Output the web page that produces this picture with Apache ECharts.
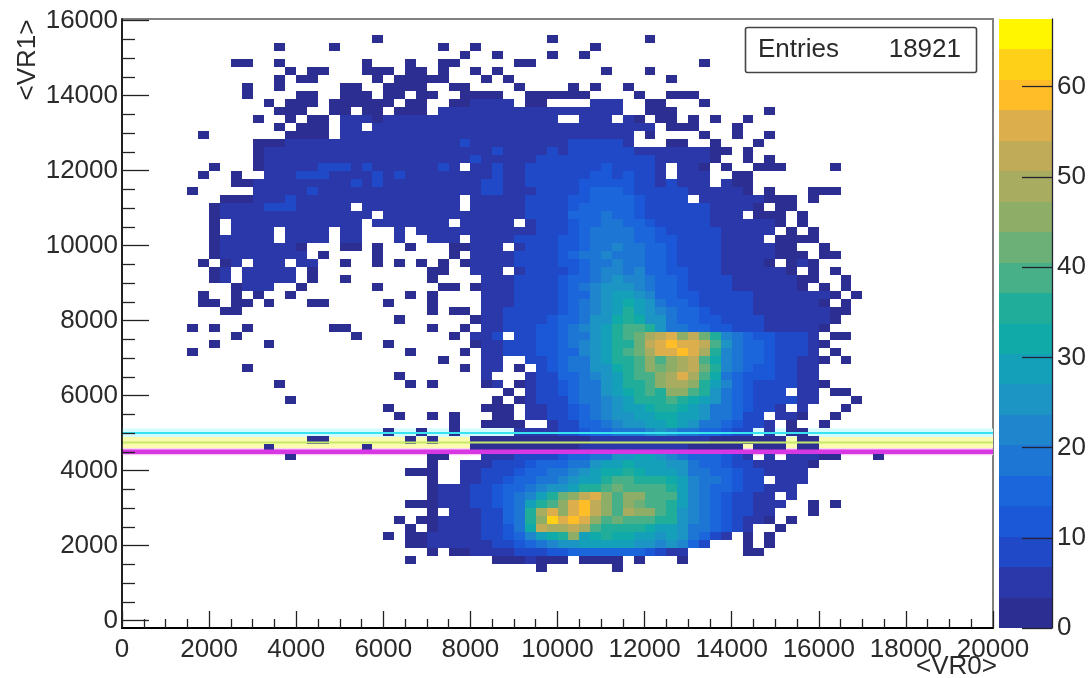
<!DOCTYPE html>
<html><head><meta charset="utf-8">
<style>html,body{margin:0;padding:0;background:#fff}#c{width:1091px;height:678px;filter:blur(0.7px)}</style>
<script src="https://cdn.jsdelivr.net/npm/echarts@6/dist/echarts.min.js"></script>
</head><body><div id="c"></div>
<script>
// Each row is one y bin from the top; each char one x bin: '.' empty, base-36 level L => count 2L.
const E = "..........";
const countRows = [
"","",
[E,E,"...1......",".........1","........1."].join(""),
[E,"....1....1",".........1","..1.......","...1......"].join(""),
[E,E,E,".1..1....1","..1......."].join(""),
[E,"11..1.....","..1...1..1","1.....11..",E,"...1......"].join(""),
[E,".....1.11.","..111.11.1","..1.1.....","....1...1."].join(""),
[E,"....1.11..","...1.11111","...1.1....",E,"1........."].join(""),
[E,".1..1.....","11..1111..","11....1...",".1.1..1..."].join(""),
[E,".1....11..","111.11.11.",".1111..111","111....1..","111......."].join(""),
[E,"...1.111.1","11111.11..","112222.11.","...222..11","...1......"].join(""),
[E,"....111..1","1.11.111.2","2223332332","232322..11","1........1"].join(""),
[E,"..1..1.11.","2221222222","2332333333","..332.21.1","1.1.1..1.."].join(""),
[E,"....1.111.","22.2222222","3323333333","333333332.","111...1..."].join(""),
[".......1..",".....1111.","2222222222","3232333333","3333333.1.","...1..1..1"].join(""),
[E,"..11122222","2222233323","3433323333","3444443...","11..1...1."].join(""),
[E,"..12222222","2323233333","3333433334","3444444333","322211.1.."].join(""),
[E,"..12222323","3333333333","3343333344","4445555443","33321..1.1"].join(""),
["........1.","..12333344","4343333334","3.33433444","4455655443",".321.1..11","1....1...."].join(""),
[".......1..","1..2334443","3334343333","3333433444","4556656543",".332..11.."].join(""),
[E,"1122333333","3434333323","3334433444","4566666543","4332.211.."].join(""),
["......1...","..23333433","3333333333","3334433345","5567776544","44332221.1","...111...."].join(""),
[".........1","1123343333","3323223323","3.33333445","5667877654","44.3332221","11.1......"].join(""),
["........12","2334453333","3.22222223","3.33333445","5678887655","544433221.","11........"].join(""),
["........12","2233332222","222.222223","3323333445","5778987655","5444332.11","1.1......."].join(""),
["........1.","2222222222","22.2222222",".33333.344","5678998765","5544333222","1.1......."].join(""),
["........1.","2222.2222.","22...2.222","2333333344","5679a99876","5554433322",".1.1......"].join(""),
["........12","2222.2222.","22...2..22","2.33334445","6679aa9876","655443322.","1111......"].join(""),
["........12","2222221...","11.1..1...","11222.3444","6689ab9987","6544433222","11..1....."].join(""),
["........12","2222222.1.","...1......","1.22334445","679ab9a977","6544433222","111.11...."].join(""),
[".......1.1","2.222.22..","1..1.1.1.1",".122334455","668aaba977","6544433321",".121......"].join(""),
["........12",".22222.1..","........11","..222.3445","568abbab87","6654433322","21.1.1...."].join(""),
["........12",".22222.1..","1.......1.","...2334455","678abcbb97","7655443322","2211..1..."].join(""),
[E,"1222..1...","...1.....1","1.12334455","679bcdcba7","7655443332","221.1.1..."].join(""),
[".......1..","1.1..1....","......1.1.","...2334555","678bcfecb8","7665554432","322221.1.."].join(""),
[".......11.","11.1...11.","....1...1.","...2334555","679bdfgeca","8765554432","33221.1..."].join(""),
[".........1","1.........","........1.","11.2344555","679bcehfcb","9776555433","3322211..."].join(""),
[E,E,".....1....","..12344556","78acdgigdc","a876655443","333221...."].join(""),
["......1.1.",".1.......1","1.......1.",".1.2344566","79bcfikjhc","a987665443","33221....."].join(""),
[E,"1.........",".1........","1.234.4566","79acfhjlpq","rnqlhb9766","5443.11..."].join(""),
["........1.","...1......","....1.....","..12344566","79bcehhlqs","trsqjca876","55431....."].join(""),
["......1...",E,"......1...",".1.2344566","78bceijlor","rtsphba876","5442.1...."].join(""),
[E,E,".........1","...23..456","79acehikmk","mpqkgb9876","55321.1..."].join(""),
[E,".1........",E,".1.23.1.56","79acdgikml","npqliba766","4432......"].join(""),
[E,E,".....1....","...2...355","78abdfhjkm","prokga8666","4432......"].join(""),
[E,"....1.....","......1.1.","...12.1245","689acfhikn","ponieb8655","44321....."].join(""),
[E,E,E,".....1.245","679acegiki","nmjhda8655","4.32.11..."].join(""),
[E,".....1....",E,"....1.1245","579abdfhii","jhgeca8655","4432...1.."].join(""),
[E,E,"....1.....","...111.234","568abdefgh","hgeca98654","3.2...1..."].join(""),
[E,E,".....1..1.","1...11.234","467abcdefg","gfeca9754.","221..1...."].join(""),
[E,E,E,"1..1111..3","4578abcdef","geca976543",".1..1....."].join(""),
[E,E,"....1..1..","1.....2233","4567899abc","ba987654.3",".11......."].join(""),
[E,".......11.","......1.1.","..11111111","1112222222","2222111111","1.11......"].join(""),
[E,"...1......","..1.......","..11111111","1122222222","2211111.11","1.11......"].join(""),
[E,".....1....","........11","...2234455","6789acdeed","b9887653.2",".22211...1"].join(""),
[E,E,"........1.",".233445677","89acefgfee","dc98765433","3321......"].join(""),
[E,E,"......111.",".234456789","abdeggigff","eca9876543","332......."].join(""),
[E,E,"........1.",".23456789a","bcefhkkhhh","geba97654.","332......."].join(""),
[E,E,"........12","2345678abc","dfhiklkjkk","ifba876543","22........"].join(""),
[E,E,"........12","2345679bfi","lnqrnkmnkj","jfb9865432",".2........"].join(""),
[E,E,"......1112","234568aeij","nsuqmkmlkj","ifb9865432","2..1.1...."].join(""),
[E,E,"........1.","233457aips","nstqnkpnmj","hdb9765432","...1......"].join(""),
[E,E,".....1.112","233457ainw","strmklkkji","hdb9765321",".1........"].join(""),
[E,E,"......1.12","2334569gqo","oqpkhhhhge","fca97642..","1........."].join(""),
[E,E,"....1.1122","2234568bfg","hmfghggfed","eca752.1.1"].join(""),
[E,E,"......1122","22234568ab","cdefffedcb","cb84...1.1"].join(""),
[E,E,"........1.","1122334456","6778887765","32.....11."].join(""),
[E,E,"......1...","....111211","1.1111.1..",".1........"].join(""),
[E,E,E,"........1.",".....1...."].join(""),
"","","","","","",""
];
const xRange = [0, 20000];
const yRange = [-200, 16040];
const xBinCount = 80;
const yBinCount = 76;
const xTickStep = 2000;
const yMajorTicks = [0,2000,4000,6000,8000,10000,12000,14000,16000];
const yMinorTicks = [500,1000,1500,2500,3000,3500,4500,5000,5500,6500,7000,7500,8500,9000,9500,10500,11000,11500,12500,13000,13500,14500,15000,15500];
const zMax = 67.5;
const zTicks = [0,10,20,30,40,50,60];
const paletteColors = ["#2d2e92","#2a38aa","#1f49c6","#1a58d8","#1c66dc","#1d75d4","#1f85cc","#1c94c4","#13a0b8","#10aaa8","#20ae9a","#48b088","#6cb078","#8eae68","#a8ac60","#c0ac58","#dcae4c","#ffbe28","#ffd018","#fff600"];
const cutLines = [
  {name:"cut high", y:5000, core:"#38e4f0", halo:"#d4fbff", width:2, haloWidth:9},
  {name:"cut mid",  y:4750, core:"#c4ea66", halo:"#fafab0", width:2, haloWidth:11},
  {name:"cut low",  y:4500, core:"#d838e4", halo:"#f8c8f4", width:4.5, haloWidth:7}
];
const entriesLabel = "Entries";
const entriesValue = "18921";
const xTitle = "<VR0>";
const yTitle = "<VR1>";

const fontFamily = "Liberation Sans";
const labelColor = "#2a2a2a";
const xBin = (xRange[1]-xRange[0])/xBinCount;
const yBin = (yRange[1]-yRange[0])/yBinCount;
const zStep = zMax/paletteColors.length;

const cells = [];
countRows.forEach((row,r)=>{
  for(let c=0;c<row.length;c++){
    if(row[c]==='.') continue;
    const n = parseInt(row[c],36)*2;
    const yHigh = yRange[1]-r*yBin;
    cells.push([xRange[0]+c*xBin, xRange[0]+(c+1)*xBin, yHigh-yBin, yHigh, n]);
  }
});
const barCells = paletteColors.map((_,i)=>[0,1,i*zStep,(i+1)*zStep,(i+0.5)*zStep]);

function renderCell(params, api){
  const a = api.coord([api.value(0), api.value(3)]);
  const b = api.coord([api.value(1), api.value(2)]);
  const x0=Math.round(a[0]), y0=Math.round(a[1]), x1=Math.round(b[0]), y1=Math.round(b[1]);
  return {type:'rect', shape:{x:x0,y:y0,width:x1-x0,height:y1-y0},
          style:{fill:api.visual('color')}};
}
function renderBand(params, api){
  const a = api.coord([xRange[0], api.value(0)]);
  const b = api.coord([xRange[1], api.value(0)]);
  const h = cutLines[params.dataIndex].haloWidth;
  return {type:'rect', shape:{x:a[0],y:a[1]-h/2,width:b[0]-a[0],height:h},
          style:{fill:cutLines[params.dataIndex].halo}};
}
const lineSeries = cutLines.map(l=>({
  type:'line', name:l.name, xAxisIndex:0, yAxisIndex:0, z:6, symbol:'none', silent:true, animation:false,
  data:[[xRange[0],l.y],[xRange[1],l.y]],
  lineStyle:{color:l.core, width:l.width}
}));

const chart = echarts.init(document.getElementById('c'), null, {renderer:'canvas'});
chart.setOption({
  animation:false,
  backgroundColor:'#fff',
  textStyle:{fontFamily},
  visualMap:{type:'piecewise', show:false, seriesIndex:[0,1], dimension:4,
    pieces:paletteColors.map((color,i)=>({gte:i*zStep, lt:(i+1)*zStep, color}))},
  grid:[
    {left:122, top:19, width:871, height:609, show:true, borderColor:'#808080', borderWidth:2, backgroundColor:'#fff'},
    {left:999, top:19, width:53, height:609}
  ],
  xAxis:[
    {type:'value', gridIndex:0, min:xRange[0], max:xRange[1], interval:xTickStep, z:7,
     splitLine:{show:false},
     axisLine:{onZero:false, lineStyle:{color:'#000', width:2}},
     axisTick:{inside:true, length:17, lineStyle:{color:'#222', width:1.3}},
     minorTick:{show:true, splitNumber:4, length:9, lineStyle:{color:'#222', width:1.3}},
     minorSplitLine:{show:false},
     axisLabel:{fontSize:26, color:labelColor, margin:9, hideOverlap:false, formatter:v=>String(v)}},
    {type:'value', gridIndex:1, min:0, max:1, show:false}
  ],
  yAxis:[
    {type:'value', gridIndex:0, min:yRange[0], max:yRange[1], z:7,
     splitLine:{show:false},
     axisLine:{onZero:false, lineStyle:{color:'#000', width:1.5}},
     axisTick:{inside:true, length:27, customValues:yMajorTicks, lineStyle:{color:'#222', width:1.3}},
     axisLabel:{fontSize:26, color:labelColor, margin:4, customValues:yMajorTicks, formatter:v=>String(v)}},
    {type:'value', gridIndex:0, min:yRange[0], max:yRange[1], position:'left', z:7,
     splitLine:{show:false},
     axisLine:{show:false, onZero:false},
     axisTick:{inside:true, length:13, customValues:yMinorTicks, lineStyle:{color:'#222', width:1.3}},
     axisLabel:{show:false}},
    {type:'value', gridIndex:1, min:0, max:zMax, position:'right', z:7,
     splitLine:{show:false},
     axisLine:{show:true, onZero:false, lineStyle:{color:'#223', width:1.3}},
     axisTick:{show:true, inside:true, length:30, customValues:zTicks, lineStyle:{color:'#223', width:1.3}},
     axisLabel:{fontSize:26, color:labelColor, margin:5, customValues:zTicks, formatter:v=>String(v)}}
  ],
  series:[
    {type:'custom', name:'counts', xAxisIndex:0, yAxisIndex:0, z:2, silent:true, progressive:0,
     renderItem:renderCell, encode:{x:[0,1], y:[2,3]}, data:cells},
    {type:'custom', name:'colour bar', xAxisIndex:1, yAxisIndex:2, z:2, silent:true, progressive:0,
     renderItem:renderCell, encode:{x:[0,1], y:[2,3]}, data:barCells},
    {type:'custom', name:'halos', xAxisIndex:0, yAxisIndex:0, z:1, silent:true,
     renderItem:renderBand, encode:{y:0}, data:cutLines.map(l=>[l.y])},
    ...lineSeries
  ],
  graphic:[
    {type:'rect', z:20, shape:{x:745.5,y:27.5,width:231,height:45,r:2}, style:{fill:'#fff', stroke:'#444', lineWidth:1.6}},
    {type:'text', z:21, x:758, y:50, style:{text:entriesLabel, fontFamily, fontSize:26, fill:labelColor, textAlign:'left', textVerticalAlign:'middle'}},
    {type:'text', z:21, x:961, y:50, style:{text:entriesValue, fontFamily, fontSize:26, fill:labelColor, textAlign:'right', textVerticalAlign:'middle'}},
    {type:'text', z:21, x:997, y:667, style:{text:xTitle, fontFamily, fontSize:26, fill:labelColor, textAlign:'right', textVerticalAlign:'middle'}},
    {type:'text', z:21, x:28, y:60, rotation:Math.PI/2, style:{text:yTitle, fontFamily, fontSize:26, fill:labelColor, textAlign:'center', textVerticalAlign:'middle'}}
  ]
});
</script></body></html>
